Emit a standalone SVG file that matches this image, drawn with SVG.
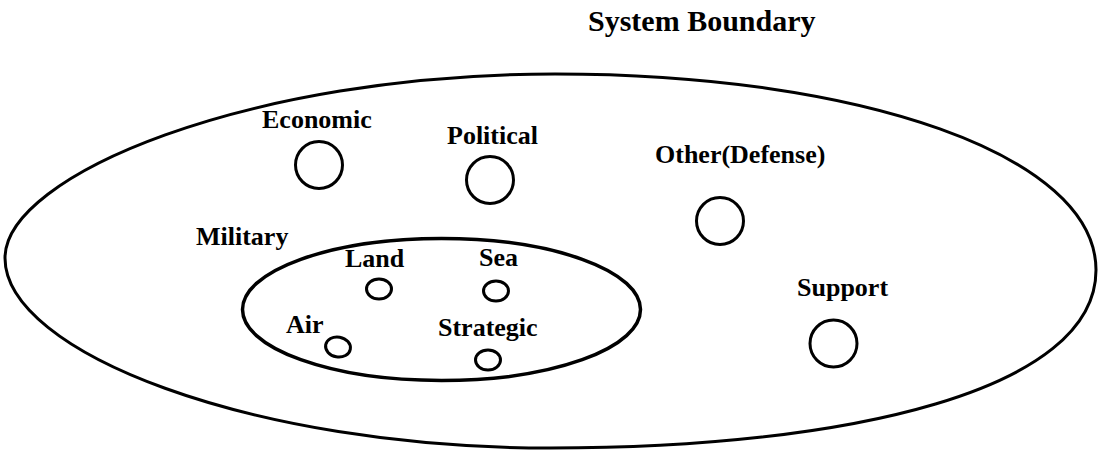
<svg xmlns="http://www.w3.org/2000/svg" width="1101" height="454" viewBox="0 0 1101 454">
<style>
.lbl{font-family:"Liberation Serif","Times New Roman",serif;font-weight:bold;font-size:26px;fill:#000}
.ttl{font-family:"Liberation Serif","Times New Roman",serif;font-weight:bold;font-size:30px;fill:#000}
.ln{fill:none;stroke:#000;stroke-width:3}
</style>
<rect width="1101" height="454" fill="#fff"/>
<text class="ttl" x="588" y="31">System Boundary</text>
<g id="system-boundary">
<path class="ln" d="M5,258 C5,175 249,74 555,74 C860,74 1096,155 1096,270 C1096,390 850,448 550,448 C250,448 5,352 5,258 Z"/>
</g>
<g id="economic"><circle class="ln" cx="319" cy="165" r="23.5"/><text class="lbl" x="262" y="128">Economic</text></g>
<g id="political"><circle class="ln" cx="490" cy="180" r="23.5"/><text class="lbl" x="447" y="144">Political</text></g>
<g id="other-defense"><circle class="ln" cx="720" cy="221" r="23.5"/><text class="lbl" x="655" y="163">Other(Defense)</text></g>
<g id="support"><circle class="ln" cx="833.5" cy="343.5" r="23.5"/><text class="lbl" x="797" y="296">Support</text></g>
<g id="military">
<ellipse class="ln" cx="441.5" cy="309.5" rx="199" ry="71" style="stroke-width:3.5"/>
<text class="lbl" x="196" y="245">Military</text>
</g>
<g id="land"><ellipse class="ln" cx="379" cy="289" rx="12.5" ry="10"/><text class="lbl" x="345" y="267">Land</text></g>
<g id="sea"><ellipse class="ln" cx="496" cy="291" rx="12.5" ry="10"/><text class="lbl" x="479" y="266">Sea</text></g>
<g id="air"><ellipse class="ln" cx="338" cy="347" rx="12.5" ry="10" transform="rotate(10 338 347)"/><text class="lbl" x="286" y="333">Air</text></g>
<g id="strategic"><ellipse class="ln" cx="488" cy="360" rx="12.5" ry="10"/><text class="lbl" x="438" y="336">Strategic</text></g>
<g id="connectors"></g>
</svg>
